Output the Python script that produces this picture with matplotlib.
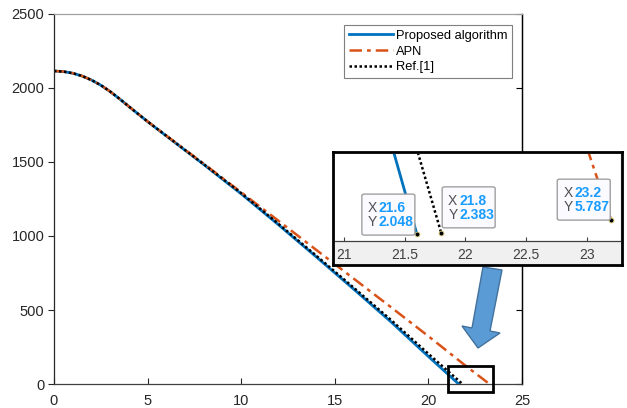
import matplotlib
matplotlib.use("Agg")
import matplotlib.pyplot as plt
from matplotlib.patches import Rectangle, Polygon, FancyBboxPatch

plt.rcParams['font.family'] = ['Liberation Sans', 'DejaVu Sans']

# trajectories: distance (x) vs height (y)
x_prop = [0, 0.5, 1, 1.5, 2, 2.5, 3, 3.5, 4, 5, 6, 8, 10, 12, 14, 16, 18, 20, 21.6]
y_prop = [2115, 2111, 2100, 2081, 2054, 2019, 1976, 1927, 1875, 1773, 1676, 1483,
          1285, 1075, 860, 642, 420, 186, 2.048]

x_apn = [0, 0.5, 1, 1.5, 2, 2.5, 3, 3.5, 4, 5, 6, 8, 10, 12, 14, 16, 18, 20, 22, 23.2]
y_apn = [2115, 2111, 2100, 2081, 2054, 2019, 1976, 1927, 1875, 1774, 1678, 1488,
         1295, 1102, 907, 713, 519, 323, 122, 5.787]

x_ref = [0, 0.5, 1, 1.5, 2, 2.5, 3, 3.5, 4, 5, 6, 8, 10, 12, 14, 16, 18, 20, 21.8]
y_ref = [2115, 2111, 2100, 2081, 2054, 2019, 1976, 1927, 1875, 1773, 1677, 1485,
         1290, 1081, 868, 652, 433, 204, 2.383]

labels = ['Proposed algorithm', 'APN', 'Ref.[1]']
colors = ['#0072bd', '#d95319', 'black']
styles = ['-', (0, (5, 2, 1.5, 2)), (0, (1, 1))]
widths = [2.0, 1.8, 1.8]

x_ticks = [0, 5, 10, 15, 20, 25]
y_ticks = [0, 500, 1000, 1500, 2000, 2500]
inset_ticks = [21, 21.5, 22, 22.5, 23]

W, H = 627, 408
fig = plt.figure(figsize=(W / 100, H / 100), dpi=100)

def fx(px):
    return px / W

def fy(py):
    return 1 - py / H

ax = fig.add_axes([fx(54), fy(384), fx(522) - fx(54), fy(14) - fy(384)])
series = [(x_prop, y_prop), (x_apn, y_apn), (x_ref, y_ref)]
for (xs, ys), lab, c, ls, lw in zip(series, labels, colors, styles, widths):
    ax.plot(xs, ys, color=c, linestyle=ls, linewidth=lw, label=lab)

ax.set_xlim(0, 25)
ax.set_ylim(0, 2500)
ax.set_xticks(x_ticks)
ax.set_yticks(y_ticks)
ax.tick_params(axis='x', direction='in', length=4, labelsize=10.5, colors='#262626', pad=7)
ax.tick_params(axis='y', direction='out', length=4, labelsize=10.5, colors='#262626', pad=3)
ax.spines['top'].set_color('#a0a0a0')
ax.spines['bottom'].set_color('#404040')
ax.spines['left'].set_color('#262626')
ax.spines['right'].set_color('black')
for s in ax.spines.values():
    s.set_linewidth(0.9)

sec = ax.secondary_yaxis('right')
sec.set_yticks(y_ticks)
sec.tick_params(direction='in', length=4, labelright=False)
sec.spines['right'].set_linewidth(0.9)

leg = ax.legend(loc='upper right', bbox_to_anchor=(0.979, 0.97), borderaxespad=0,
                fancybox=False, framealpha=1, edgecolor='#7f7f7f', fontsize=9.3,
                handlelength=3.4, handletextpad=0.25, labelspacing=0.3,
                borderpad=0.35)
leg.get_frame().set_linewidth(0.8)

# zoom box around the landing point
ax.add_patch(Rectangle((21.05, -54), 2.4, 176, fill=False, edgecolor='black',
                       linewidth=2, clip_on=False, zorder=5))

# arrow pointing at the zoom box
arrow_px = [(483, 267), (502, 270), (490, 331), (500, 333), (478, 348),
            (462, 326), (472, 328)]
fig.patches.append(Polygon([(fx(a), fy(b)) for a, b in arrow_px], closed=True,
                           transform=fig.transFigure, facecolor='#5b9bd5',
                           edgecolor='#41719c', linewidth=1, zorder=6))

# inset frame (gray background for tick labels)
frame = fig.add_axes([fx(333), fy(265), fx(622) - fx(333), fy(152) - fy(265)])
frame.set_facecolor('#f0f0f0')
frame.set_xticks([])
frame.set_yticks([])
for s in frame.spines.values():
    s.set_linewidth(2)
    s.set_color('black')
frame.set_zorder(7)

ins = fig.add_axes([fx(335), fy(241), fx(620) - fx(335), fy(154) - fy(241)])
ins.set_zorder(8)
for (xs, ys), c, ls, lw in zip(series, colors, styles, widths):
    ins.plot(xs, ys, color=c, linestyle=ls, linewidth=lw)
ins.set_xlim(20.926, 23.272)
ins.set_ylim(0.2, 23.5)
ins.set_xticks(inset_ticks)
ins.set_xticklabels(['21', '21.5', '22', '22.5', '23'])
ins.set_yticks([])
ins.tick_params(axis='x', direction='in', length=3, labelsize=10, colors='#404040', pad=5)
for side in ['top', 'left', 'right']:
    ins.spines[side].set_visible(False)
ins.spines['bottom'].set_color('#404040')
ins.spines['bottom'].set_linewidth(0.9)

# data tips: end point of each curve
tips = [(x_prop[-1], y_prop[-1], 'right', (-2, -1)),
        (x_ref[-1], y_ref[-1], 'left', (1, 5)),
        (x_apn[-1], y_apn[-1], 'right', (-1, 0))]
fig.canvas.draw()
for tx, ty, side, (ox, oy) in tips:
    ins.plot([tx], [ty], 'o', markersize=3.5, markerfacecolor='black',
             markeredgecolor='#e0d080', markeredgewidth=0.6, zorder=10, clip_on=False)
    px, py = ins.transData.transform((tx, ty))
    bw, bh = 53, 41
    if side == 'right':
        x0 = px + ox - bw
    else:
        x0 = px + ox
    y0 = py + oy
    box = FancyBboxPatch((x0 / W, y0 / H), bw / W, bh / H,
                         boxstyle='round,pad=0,rounding_size=0.004',
                         transform=fig.transFigure, facecolor='#fafaff',
                         edgecolor='#a0a0a0', linewidth=1, zorder=20)
    fig.patches.append(box)
    for k, (letter, val) in enumerate([('X', f'{tx:g}'), ('Y', f'{ty:g}')]):
        yy = (y0 + bh - 14 - 14 * k) / H
        fig.text((x0 + 6) / W, yy, letter, fontsize=10, color='#505050',
                 va='center', ha='left', zorder=21)
        fig.text((x0 + 17) / W, yy, val, fontsize=10, color='#1a9cff',
                 fontweight='bold', va='center', ha='left', zorder=21)

fig.savefig('out.png', dpi=100)
